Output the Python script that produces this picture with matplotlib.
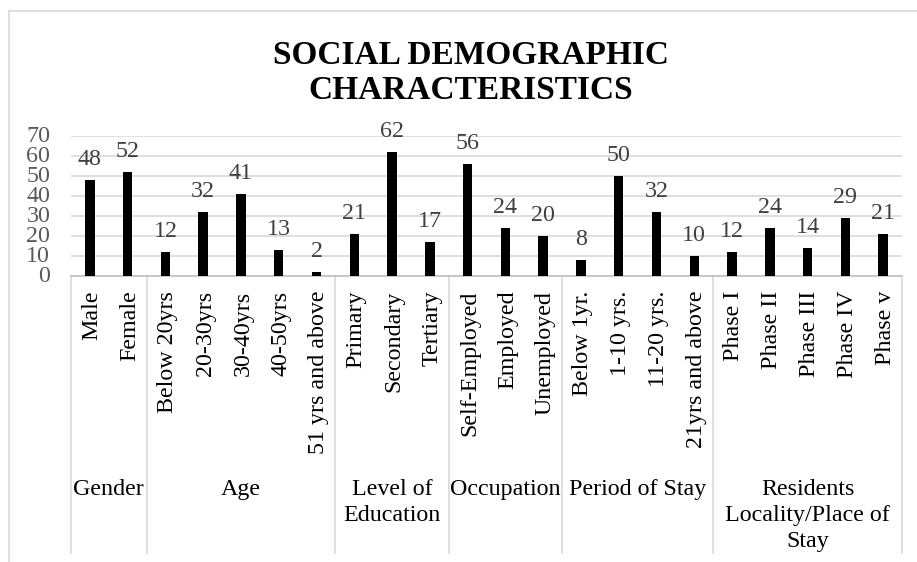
import matplotlib.pyplot as plt
from matplotlib.lines import Line2D

# data
groups = ['Gender', 'Age', 'Level of\nEducation', 'Occupation', 'Period of Stay',
          'Residents\nLocality/Place of\nStay']
items = [
    ['Male', 'Female'],
    ['Below 20yrs', '20-30yrs', '30-40yrs', '40-50yrs', '51 yrs and above'],
    ['Primary', 'Secondary', 'Tertiary'],
    ['Self-Employed', 'Employed', 'Unemployed'],
    ['Below 1yr.', '1-10 yrs.', '11-20 yrs.', '21yrs and above'],
    ['Phase I', 'Phase II', 'Phase III', 'Phase IV', 'Phase v'],
]
values = [
    [48, 52],
    [12, 32, 41, 13, 2],
    [21, 62, 17],
    [56, 24, 20],
    [8, 50, 32, 10],
    [12, 24, 14, 29, 21],
]
yticks = [0, 10, 20, 30, 40, 50, 60, 70]

plt.rcParams['font.family'] = ['Liberation Serif', 'DejaVu Serif']
FS = 17.3
grid_c = '#d9d9d9'

labels = [l for g in items for l in g]
vals = [v for g in values for v in g]
x = list(range(len(labels)))

W, H = 917, 562
fig = plt.figure(figsize=(W / 100, H / 100), dpi=100)
ax = fig.add_axes([71 / W, (H - 276) / H, (902 - 71) / W, 140 / H])

ax.bar(x, vals, width=0.25, color='black', zorder=3)
for xi, v in zip(x, vals):
    ax.annotate(str(v), (xi, v), xytext=(0, 7.5), textcoords='offset points',
                ha='center', va='bottom', fontsize=FS, color='#404040')

ax.set_xlim(-0.5, len(labels) - 0.5)
ax.set_ylim(0, 70)
ax.set_yticks(yticks)
ax.yaxis.grid(True, color=grid_c, lw=1.2, zorder=0)
ax.tick_params(axis='y', length=0, labelsize=FS, labelcolor='#595959', pad=15)
for lab in ax.get_yticklabels():
    lab.set_va('center')
ax.set_xticks([])
for s in ['left', 'right', 'top']:
    ax.spines[s].set_visible(False)
ax.spines['bottom'].set_color('#bfbfbf')
ax.spines['bottom'].set_linewidth(1.2)

# multi-level category axis
trans = ax.get_xaxis_transform()
for xi, lab in zip(x, labels):
    ax.text(xi + 0.05, -0.105, lab, transform=trans, rotation=90, ha='center', va='top',
            fontsize=FS, color='black')

start = 0
bounds = [-0.5]
for g, its in zip(groups, items):
    end = start + len(its)
    ax.text((start + end - 1) / 2, -1.45, g, transform=trans, ha='center', va='top',
            fontsize=FS, color='black', linespacing=1.3)
    bounds.append(end - 0.5)
    start = end
for b in bounds:
    ax.add_line(Line2D([b, b], [0, -1.98], transform=trans, color=grid_c, lw=1.2,
                       clip_on=False))

fig.text(471 / W, 1 - 73 / H, 'SOCIAL DEMOGRAPHIC\nCHARACTERISTICS', ha='center', va='center',
         fontsize=24, fontweight='bold', linespacing=1.15)

# chart border (left and top visible)
fig.add_artist(Line2D([9 / W, 9 / W], [0, 1 - 11 / H], transform=fig.transFigure,
                      color=grid_c, lw=1.2))
fig.add_artist(Line2D([9 / W, 1], [1 - 11 / H, 1 - 11 / H], transform=fig.transFigure,
                      color=grid_c, lw=1.2))

fig.savefig('out.png', dpi=100)
